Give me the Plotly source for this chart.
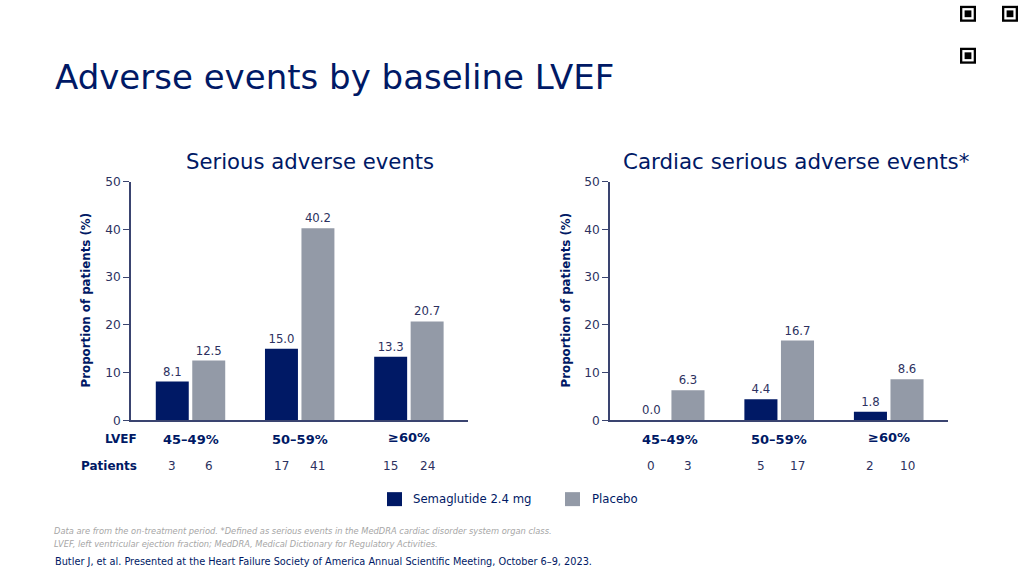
import plotly.graph_objects as go

# ---------------- data ----------------
categories = ["45–49%", "50–59%", "≥60%"]
sae_semaglutide = [8.1, 15.0, 13.3]
sae_placebo = [12.5, 40.2, 20.7]
csae_semaglutide = [0.0, 4.4, 1.8]
csae_placebo = [6.3, 16.7, 8.6]
sae_patients_semaglutide = [3, 17, 15]
sae_patients_placebo = [6, 41, 24]
csae_patients_semaglutide = [0, 5, 2]
csae_patients_placebo = [3, 17, 10]
y_ticks = [0, 10, 20, 30, 40, 50]
series_names = ["Semaglutide 2.4 mg", "Placebo"]

# ---------------- style ----------------
FONT = "DejaVu Sans"
NAVY = "#001965"
GREY = "#939aa7"
TICK_TXT = "#2c3160"
AXIS_LINE = "#3a4470"
W, H = 1024, 576

# vertical placement helper (slide pixel-from-top -> paper y), calibrated to the page capture
def py(p):
    return 1 - ((p - 6.2) / 0.977) / H

def px(p):
    return p / W

BARGAP = 0.332
GROUPGAP = 0.096
SLOT = (1 - BARGAP) / 2  # width of one bar slot in category units

fig = go.Figure()

panels = [
    dict(x="x", y="y", sema=sae_semaglutide, plac=sae_placebo,
         nsema=sae_patients_semaglutide, nplac=sae_patients_placebo),
    dict(x="x2", y="y2", sema=csae_semaglutide, plac=csae_placebo,
         nsema=csae_patients_semaglutide, nplac=csae_patients_placebo),
]

for i, p in enumerate(panels):
    for vals, color, name in [(p["sema"], NAVY, series_names[0]), (p["plac"], GREY, series_names[1])]:
        fig.add_trace(go.Bar(
            x=categories, y=vals, name=name, marker=dict(color=color, line=dict(width=0)),
            xaxis=p["x"], yaxis=p["y"], showlegend=False,
            texttemplate="%{y:.1f}", textposition="outside", cliponaxis=False,
            textfont=dict(family=FONT, size=11.7, color=TICK_TXT),
        ))

ydom = [py(420), py(181)]
common_x = dict(type="category", categoryorder="array", categoryarray=categories,
                showline=True, linecolor=AXIS_LINE, linewidth=1.5, showticklabels=False,
                ticks="", showgrid=False, zeroline=False, range=[-0.545, 2.544], fixedrange=True)
common_y = dict(range=[0, 50], tickvals=y_ticks, ticks="outside", ticklen=6, tickwidth=1.2,
                tickcolor=AXIS_LINE, showline=True, linecolor=AXIS_LINE, linewidth=1.5,
                showgrid=False, zeroline=False, domain=ydom,
                tickfont=dict(family=FONT, size=12.2, color=TICK_TXT), fixedrange=True)

fig.update_layout(
    width=W, height=H, margin=dict(l=0, r=0, t=0, b=0),
    paper_bgcolor="white", plot_bgcolor="white",
    barmode="group", bargap=BARGAP, bargroupgap=GROUPGAP,
    font=dict(family=FONT, color=NAVY),
    xaxis=dict(domain=[px(131), px(468.3)], anchor="y", **common_x),
    yaxis=dict(anchor="x", **common_y),
    xaxis2=dict(domain=[px(610), px(948.3)], anchor="y2", **common_x),
    yaxis2=dict(anchor="x2", **common_y),
    showlegend=False,
)

ann = []
# Slide title
ann.append(dict(text="Adverse events by baseline LVEF", x=px(53), y=py(76), xref="paper", yref="paper",
                xanchor="left", yanchor="middle", showarrow=False,
                font=dict(family=FONT, size=34, color=NAVY)))
# Panel titles
ann.append(dict(text="Serious adverse events", x=px(310), y=py(161), xref="paper", yref="paper",
                xanchor="center", yanchor="middle", showarrow=False,
                font=dict(family=FONT, size=21.2, color=NAVY)))
ann.append(dict(text="Cardiac serious adverse events*", x=px(796), y=py(161), xref="paper", yref="paper",
                xanchor="center", yanchor="middle", showarrow=False,
                font=dict(family=FONT, size=21.4, color=NAVY)))
# Y axis titles
for xc in (86, 566):
    ann.append(dict(text="<b>Proportion of patients (%)</b>", x=px(xc), y=py(300), xref="paper", yref="paper",
                    xanchor="center", yanchor="middle", textangle=-90, showarrow=False,
                    font=dict(family=FONT, size=11.8, color=NAVY)))
# Row labels
ann.append(dict(text="<b>LVEF</b>", x=px(139), y=py(439), xref="paper", yref="paper",
                xanchor="right", yanchor="middle", showarrow=False,
                font=dict(family=FONT, size=12, color=NAVY)))
ann.append(dict(text="<b>Patients</b>", x=px(139), y=py(466), xref="paper", yref="paper",
                xanchor="right", yanchor="middle", showarrow=False,
                font=dict(family=FONT, size=12, color=NAVY)))
# Category labels and patient counts
for p in panels:
    for k, cat in enumerate(categories):
        ann.append(dict(text=f"<b>{cat}</b>", x=k, y=py(437 if cat.startswith("≥") else 439),
                        xref=p["x"], yref="paper", xanchor="center", yanchor="middle", showarrow=False,
                        font=dict(family=FONT, size=13, color=NAVY)))
        for n, off in ((p["nsema"][k], -SLOT / 2), (p["nplac"][k], SLOT / 2)):
            ann.append(dict(text=str(n), x=k + off, y=py(466), xref=p["x"], yref="paper",
                            xanchor="center", yanchor="middle", showarrow=False,
                            font=dict(family=FONT, size=12, color=TICK_TXT)))

# Legend (swatches + labels)
shapes = []
for (x0, tx), color, name in zip(((387, 411), (565, 590)), (NAVY, GREY), series_names):
    shapes.append(dict(type="rect", xref="paper", yref="paper", x0=px(x0), x1=px(x0 + 15),
                       y0=py(506), y1=py(492), fillcolor=color, line=dict(width=0)))
    ann.append(dict(text=name, x=px(tx), y=py(499), xref="paper", yref="paper",
                    xanchor="left", yanchor="middle", showarrow=False,
                    font=dict(family=FONT, size=11.7, color=NAVY)))

# Footnotes
ann.append(dict(text="<i>Data are from the on-treatment period. *Defined as serious events in the MedDRA cardiac disorder system organ class.</i>",
                x=px(52), y=py(531), xref="paper", yref="paper", xanchor="left", yanchor="middle",
                showarrow=False, font=dict(family=FONT, size=8.3, color="#a6a6a6")))
ann.append(dict(text="<i>LVEF, left ventricular ejection fraction; MedDRA, Medical Dictionary for Regulatory Activities.</i>",
                x=px(52), y=py(544), xref="paper", yref="paper", xanchor="left", yanchor="middle",
                showarrow=False, font=dict(family=FONT, size=8.3, color="#a6a6a6")))
ann.append(dict(text="Butler J, et al. Presented at the Heart Failure Society of America Annual Scientific Meeting, October 6–9, 2023.",
                x=px(53), y=py(561), xref="paper", yref="paper", xanchor="left", yanchor="middle",
                showarrow=False, font=dict(family=FONT, size=9.75, color=NAVY)))

# QR code finder patterns (decorative)
qx0, qy0, qs = 960, 5, 58
fs = 16
for fx, fy in ((qx0, qy0), (qx0 + qs - fs, qy0), (qx0, qy0 + qs - fs)):
    shapes.append(dict(type="rect", xref="paper", yref="paper", x0=px(fx), x1=px(fx + fs),
                       y0=py(fy + fs), y1=py(fy), fillcolor="black", line=dict(width=0)))
    shapes.append(dict(type="rect", xref="paper", yref="paper", x0=px(fx + 2.3), x1=px(fx + fs - 2.3),
                       y0=py(fy + fs - 2.3), y1=py(fy + 2.3), fillcolor="white", line=dict(width=0)))
    shapes.append(dict(type="rect", xref="paper", yref="paper", x0=px(fx + 4.6), x1=px(fx + fs - 4.6),
                       y0=py(fy + fs - 4.6), y1=py(fy + 4.6), fillcolor="black", line=dict(width=0)))

fig.update_layout(annotations=ann, shapes=shapes)
fig.write_html("out.html", config={"displayModeBar": False},
               post_script="document.body.style.margin='0';document.body.style.overflow='hidden';")
